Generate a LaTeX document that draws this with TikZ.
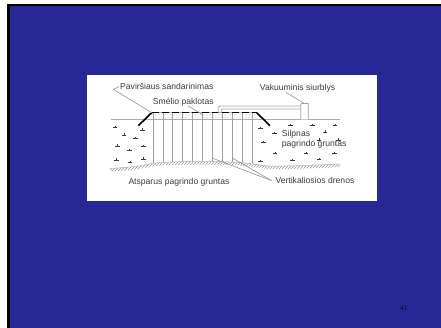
\documentclass[tikz,border=0pt]{standalone}
\usepackage{fontspec}
\setmainfont{Liberation Sans}
\newfontfamily\numfont{Liberation Serif}
\usetikzlibrary{patterns}
\definecolor{slideblue}{RGB}{39,40,150}
\definecolor{inkgray}{RGB}{60,60,60}
\definecolor{pagenum}{RGB}{12,12,35}
\newcommand{\lbl}{\fontsize{8.6}{10}\selectfont}

\begin{document}
\begin{tikzpicture}[x=1pt,y=-1pt,
    label/.style={inner sep=0pt,anchor=base west,text=inkgray,font=\lbl},
    leader/.style={gray!85,line width=0.6pt},
    drain/.style={gray!75,line width=0.8pt},
    bank/.style={black,line width=1.6pt},
    soilmark/.pic={\draw[inkgray,line width=0.8pt] (-2.4,0) -- (2.4,0) (0,0) -- (0,-1.5);}]
  \useasboundingbox (0,0) rectangle (441,328);
  \fill[white] (0,0) rectangle (441,328);
  \fill[black] (7.3,4) rectangle (441,328);
  \fill[slideblue] (9.7,5.8) rectangle (441,328);
  \fill[white] (87,75) rectangle (377,200.7);

  % sand layer under the cover
  \fill[pattern=dots,pattern color=gray!70] (151.7,112.7) -- (256.7,112.7) -- (263.5,119.3) -- (145,119.3) -- cycle;
  \draw[gray!65,line width=0.8pt] (110.7,119.3) -- (340,119.3);

  % drains, cut at the firm soil
  \begin{scope}
    \clip plot[smooth] coordinates {(110,168.5) (135,166.5) (160,162.5) (200,161.5) (240,162.5) (270,166) (305,165.5) (340,164)} -- (340,100) -- (110,100) -- cycle;
    \foreach \i in {0,...,10}
      \draw[drain] (153+9.9*\i,113) -- (153+9.9*\i,172);
  \end{scope}

  % firm soil boundary with hatching
  \fill[pattern=north east lines,pattern color=gray!80]
    plot[smooth] coordinates {(110,168.5) (135,166.5) (160,162.5) (200,161.5) (240,162.5) (270,166) (305,165.5) (340,164)}
    -- plot[smooth] coordinates {(340,167) (305,168.5) (270,169) (240,165.5) (200,164.5) (160,165.5) (135,169.5) (110,171.5)} -- cycle;
  \draw[gray!60,line width=0.5pt] plot[smooth] coordinates {(110,168.5) (135,166.5) (160,162.5) (200,161.5) (240,162.5) (270,166) (305,165.5) (340,164)};

  % embankment cover
  \coordinate (bl) at (138.3,125.7);
  \coordinate (tl) at (151.7,112.7);
  \coordinate (tr) at (256.7,112.7);
  \coordinate (br) at (270,125.7);
  \draw[gray!60,line width=0.8pt] (tl) -- (tr);
  \draw[bank] (bl) -- (tl);
  \draw[bank,dash pattern=on 7pt off 3pt] (tl) -- (tr);
  \draw[bank] (tr) -- (br);

  % pipe and pump
  \draw[gray!70,line width=0.8pt,rounded corners=1.5pt] (218.3,113) -- (218.3,106) -- (300.7,106);
  \draw[gray!70,line width=0.8pt,rounded corners=1pt] (221.3,113) -- (221.3,109) -- (300.7,109);
  \draw[gray!75,line width=0.8pt,fill=white] (300.7,119.3) -- (300.7,104.5) -- (302,103.5) -- (308.3,103.5) -- (308.3,119.3);

  % weak soil
  \foreach \x/\y in {115/127.3,124/135,135.3/138.7,142.7/130,117.7/146,129.3/150.7,143.3/146.7,116.3/160,130/162.7,143.3/159,
                     260.7/128.7,274.3/133.3,263.3/142.7,290.7/125.3,312.3/125.3,335/125.7,325/132,319/140,338.3/140,
                     275/153.3,306/153.3,334.3/153.3,260.7/161.7,292.7/160.7,319/159.3}
    \pic at (\x,\y) {soilmark};

  % labels
  \node[label] (cover) at (120,89.8) {Paviršiaus sandarinimas};
  \node[label] (sand) at (152.7,104.4) {Smėlio paklotas};
  \node[label] (pump) at (259.7,90.1) {Vakuuminis siurblys};
  \node[label,align=left,anchor=north west] (weak) at (281.7,129.8) {Silpnas\\pagrindo gruntas};
  \node[label] (firm) at (128.3,184.1) {Atsparus pagrindo gruntas};
  \node[label] (drains) at (275.3,183.1) {Vertikaliosios drenos};

  \coordinate (sandpt) at (203.3,115);
  \coordinate (pumppt) at (304,103.3);
  \coordinate (d1) at (212,158);
  \coordinate (d2) at (232.3,158);
  \draw[leader] ([xshift=-1pt]cover.west) -- (113.3,89.3) -- (tl);
  \draw[leader] (187.7,105.6) -- (sandpt);
  \draw[leader] (285.7,92.2) -- (pumppt);
  \draw[leader] ([xshift=-4pt,yshift=-0.5pt]drains.west) -- (d1);
  \draw[leader] ([xshift=-4pt,yshift=-0.5pt]drains.west) -- (d2);

  \node[inner sep=0pt,text=pagenum,font=\numfont\fontsize{7}{8}\selectfont] (page) at (403.7,308) {41};
\end{tikzpicture}
\end{document}
